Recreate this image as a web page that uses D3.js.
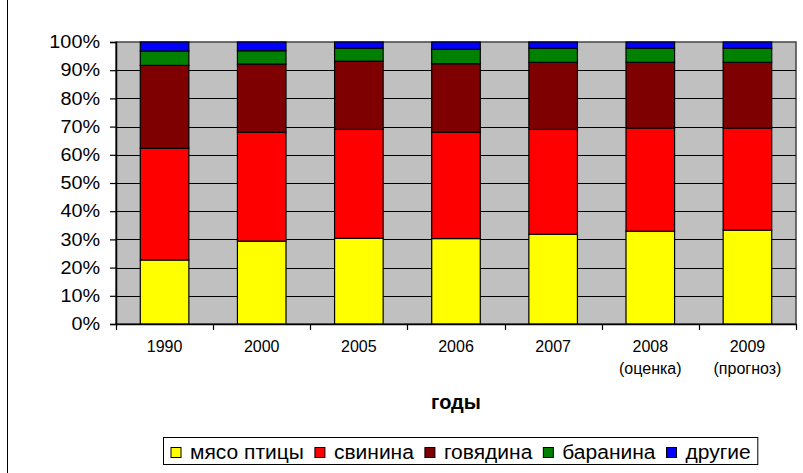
<!DOCTYPE html>
<html>
<head>
<meta charset="utf-8">
<script src="https://cdn.jsdelivr.net/npm/d3@7/dist/d3.min.js"></script>
<style>
  html, body { margin: 0; padding: 0; background: #fff; overflow: hidden; }
  svg { display: block; font-family: Arial, "Liberation Sans", sans-serif; }
</style>
</head>
<body>
<svg id="chart" width="803" height="473"></svg>
<script>
const categories = ["1990", "2000", "2005", "2006", "2007", "2008", "2009"];
const categoryNotes = ["", "", "", "", "", "(оценка)", "(прогноз)"];
const seriesNames = ["мясо птицы", "свинина", "говядина", "баранина", "другие"];
const seriesColors = ["#FFFF00", "#FF0000", "#7F0000", "#008000", "#0000FF"];
const poultry = [22.7, 29.4, 30.4, 30.3, 31.8, 32.9, 33.3];
const pork    = [39.6, 38.6, 38.6, 37.7, 37.2, 36.6, 36.2];
const beef    = [29.4, 24.2, 24.2, 24.3, 23.8, 23.3, 23.3];
const mutton  = [5.1, 4.7, 4.6, 5.1, 5.0, 5.0, 5.0];
const other   = [3.2, 3.1, 2.2, 2.6, 2.2, 2.2, 2.2];
const yTicks = [0, 0.1, 0.2, 0.3, 0.4, 0.5, 0.6, 0.7, 0.8, 0.9, 1.0];
const xTitle = "годы";

(function () {
const seriesValues = [poultry, pork, beef, mutton, other];
const rows = categories.map((c, i) => {
  const total = seriesValues.reduce((s, arr) => s + arr[i], 0);
  const r = { cat: c };
  seriesNames.forEach((n, k) => r[n] = seriesValues[k][i] / total);
  return r;
});

function stretch(sel, f) {
  sel.each(function () {
    const w = this.getComputedTextLength();
    d3.select(this).attr("textLength", w * f).attr("lengthAdjust", "spacingAndGlyphs");
  });
}

const svg = d3.select("#chart");
const pL = 116, pR = 796, pT = 42, pB = 324;

// outer chart border (left edge visible)
svg.append("line").attr("x1", 7.5).attr("x2", 7.5).attr("y1", 0).attr("y2", 473)
  .attr("stroke", "#000").attr("stroke-width", 1);

const x = d3.scaleBand().domain(categories).range([pL, pR]).paddingInner(0.5).paddingOuter(0.25);
const y = d3.scaleLinear().domain([0, 1]).range([pB, pT]);

// plot background
svg.append("rect").attr("x", pL).attr("y", pT).attr("width", pR - pL).attr("height", pB - pT)
  .attr("fill", "#C0C0C0").attr("stroke", "#444").attr("stroke-width", 1.5);

// gridlines
svg.append("g").selectAll("line").data(yTicks.slice(1, -1)).join("line")
  .attr("x1", pL).attr("x2", pR)
  .attr("y1", d => Math.round(y(d)) + 0.5).attr("y2", d => Math.round(y(d)) + 0.5)
  .attr("stroke", "#000").attr("stroke-width", 1);

// bars
const stacked = d3.stack().keys(seriesNames)(rows);
svg.append("g").selectAll("g").data(stacked).join("g")
  .attr("fill", (d, i) => seriesColors[i])
  .selectAll("rect").data(d => d).join("rect")
  .attr("x", d => x(d.data.cat))
  .attr("width", x.bandwidth())
  .attr("y", d => y(d[1]))
  .attr("height", d => y(d[0]) - y(d[1]))
  .attr("stroke", "#000").attr("stroke-width", 1.2);

// y axis
const yAxis = d3.axisLeft(y).tickValues(yTicks).tickFormat(d3.format(".0%")).tickSize(6).tickPadding(10);
const yg = svg.append("g").attr("transform", `translate(${pL},0)`).call(yAxis);
yg.select(".domain").attr("stroke", "#000").attr("stroke-width", 1.5);
yg.selectAll(".tick line").attr("stroke", "#000").attr("stroke-width", 1.2);
yg.selectAll("text").attr("font-size", 18).attr("fill", "#000")
  .attr("font-family", "Arial, 'Liberation Sans', sans-serif");
stretch(yg.selectAll("text"), 1.1);

// x axis
const xAxis = d3.axisBottom(x).tickSize(0).tickPadding(17).tickFormat(d => d);
const xg = svg.append("g").attr("transform", `translate(0,${pB})`).call(xAxis);
xg.select(".domain").attr("stroke", "#000").attr("stroke-width", 1.5);
xg.selectAll("text").attr("font-size", 16).attr("fill", "#000")
  .attr("font-family", "Arial, 'Liberation Sans', sans-serif");
xg.selectAll(".tick").each(function(d, i) {
  if (categoryNotes[i]) {
    d3.select(this).append("text").attr("y", 49.5).attr("fill", "#000")
      .attr("font-size", 16).attr("text-anchor", "middle")
      .attr("font-family", "Arial, 'Liberation Sans', sans-serif")
      .text(categoryNotes[i]);
  }
});
const boundaries = categories.map(c => x(c) - x.step() * x.paddingInner() / 2).concat([pR]);
boundaries[0] = pL;
svg.append("g").selectAll("line").data(boundaries).join("line")
  .attr("x1", d => Math.round(d) + 0.5).attr("x2", d => Math.round(d) + 0.5)
  .attr("y1", pB).attr("y2", pB + 6)
  .attr("stroke", "#000").attr("stroke-width", 1.2);

// x title
svg.append("text").attr("x", (pL + pR) / 2).attr("y", 409)
  .attr("text-anchor", "middle").attr("font-weight", "bold").attr("font-size", 20)
  .text(xTitle);

// legend
const lg = svg.append("g");
const legBox = lg.append("rect").attr("x", 163.5).attr("y", 437.5).attr("height", 27)
  .attr("fill", "#fff").attr("stroke", "#000").attr("stroke-width", 1);
let cx = 171;
seriesNames.forEach((n, i) => {
  lg.append("rect").attr("x", cx).attr("y", 447.5).attr("width", 10).attr("height", 10)
    .attr("fill", seriesColors[i]).attr("stroke", "#000").attr("stroke-width", 1);
  const t = lg.append("text").attr("x", cx + 19).attr("y", 459).attr("font-size", 20).text(n);
  const w = t.node().getComputedTextLength() * 1.05;
  t.attr("textLength", w).attr("lengthAdjust", "spacingAndGlyphs");
  cx += 19 + w + 11;
});
legBox.attr("width", cx - 163.5 - 4);
})();
</script>
</body>
</html>
